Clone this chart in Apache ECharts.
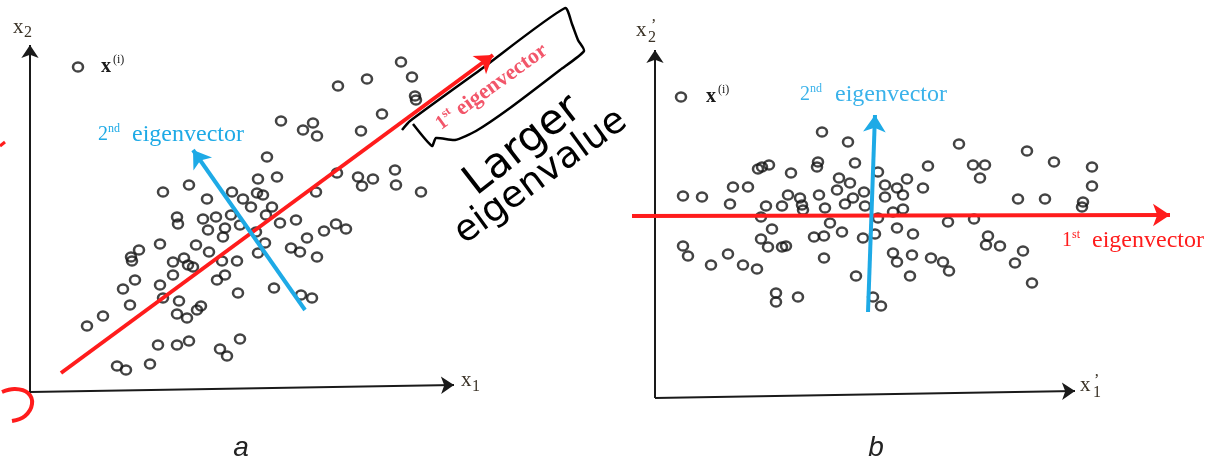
<!DOCTYPE html>
<html>
<head>
<meta charset="utf-8">
<script src="https://cdn.jsdelivr.net/npm/echarts@6/dist/echarts.min.js"></script>
<style>
  html, body { margin: 0; background: #fff; }
  #chart { width: 1220px; height: 464px; }
</style>
</head>
<body>
<div id="chart"></div>
<script>
// panel a: original data (x1, x2)
const pointsA = [
  [228,211],[247,213],[133,198],[159,205],[177,191],[202,198],[213,191],[221,183],[227,197],[233,195],[242,183],[286,198],
  [147,173],[148,166],[173,171],[186,173],[201,175],[210,165],[236,175],[195,162],[193,153],[178,160],[250,167],[266,170],
  [226,158],[277,152],[261,142],[270,138],[287,133],[130,146],[166,145],[179,138],[109,140],[101,133],[102,129],[143,128],
  [154,132],[158,125],[163,123],[143,115],[192,129],[207,129],[228,137],[235,147],[187,110],[195,115],[105,110],[93,101],
  [130,105],[133,92],[149,89],[100,85],[208,97],[244,102],[271,95],[282,92],[73,74],[57,64],[147,76],[157,72],[167,80],
  [171,84],[128,45],[147,45],[159,49],[210,51],[190,41],[197,34],[87,24],[96,20],[120,26],[371,328],[382,313],[337,311],
  [308,304],[385,294],[386,290],[352,276],[251,269],[283,267],[273,260],[287,254],[331,259],[237,233],[307,217],[328,213],
  [332,204],[343,211],[365,220],[366,205],[391,198],[294,159],[306,166],[316,161]
]
const sampleA = [48, 323]
const axisX1 = [[0, -2], [424, 5]]
const axisX2 = [[0, -2], [0, 345]]
const firstEigenA = [[31, 17], [463, 335]]
const secondEigenA = [[275, 80], [163, 240]]

// panel b: projected data (x'1, x'2)
const pointsB = [
  [167,264],[193,254],[103,227],[107,229],[114,231],[136,223],[163,234],[162,229],[200,233],[223,224],[184,218],[78,209],
  [93,209],[195,213],[230,211],[242,208],[28,200],[47,199],[75,192],[133,201],[145,198],[147,191],[148,186],[164,201],
  [182,206],[209,204],[198,198],[190,192],[230,199],[111,190],[127,190],[170,188],[210,190],[238,184],[106,179],[223,178],
  [175,173],[117,167],[187,164],[159,159],[169,160],[208,158],[220,162],[242,168],[106,157],[113,149],[127,149],[131,150],
  [28,150],[33,140],[73,142],[56,131],[88,131],[102,127],[169,138],[238,143],[242,134],[201,120],[121,103],[121,94],
  [143,99],[218,99],[226,90],[304,252],[372,245],[399,234],[437,229],[273,230],[318,231],[330,231],[325,218],[252,217],
  [248,201],[268,208],[437,210],[363,197],[390,197],[428,194],[427,189],[248,187],[293,174],[319,177],[258,162],[333,160],
  [331,151],[345,150],[257,141],[276,138],[288,134],[294,125],[368,145],[360,133],[255,120],[377,113]
]
const sampleB = [26, 299]
const axisX1p = [[0, -2], [420, 5]]
const axisX2p = [[0, -2], [0, 346]]
const firstEigenB = [[-23, 180], [515, 181]]
const secondEigenB = [[213, 84], [220, 281]]

const RED = '#ff1c1c'
const BLUE = '#1eaae6'
const INK = '#1a1a1a'
const SERIF = 'Liberation Serif'

function circles(data, idx) {
  return {
    type: 'scatter',
    xAxisIndex: idx,
    yAxisIndex: idx,
    data,
    symbol: 'circle',
    symbolSize: [10, 9],
    itemStyle: { color: 'rgba(255,255,255,0)', borderColor: '#141414', borderWidth: 2.4 },
    z: 2,
  }
}

function arrow(coords, idx, color, width, size) {
  return {
    type: 'lines',
    coordinateSystem: 'cartesian2d',
    xAxisIndex: idx,
    yAxisIndex: idx,
    symbol: ['none', 'arrow'],
    symbolSize: size,
    lineStyle: { color, width, opacity: 1, curveness: 0 },
    data: [{ coords }],
    z: 3,
  }
}

function txt(x, y, text, size, color, extra) {
  return {
    type: 'text',
    x,
    y,
    silent: true,
    style: Object.assign({
      text,
      fill: color,
      fontSize: size,
      fontFamily: SERIF,
      textAlign: 'left',
      textVerticalAlign: 'middle',
    }, extra || {}),
  }
}

const chart = echarts.init(document.getElementById('chart'))
chart.setOption({
  animation: false,
  grid: [
    { left: 0, top: 0, width: 610, height: 464 },
    { left: 610, top: 0, width: 610, height: 464 },
  ],
  xAxis: [
    { type: 'value', gridIndex: 0, min: -30, max: 580, show: false },
    { type: 'value', gridIndex: 1, min: -45, max: 565, show: false },
  ],
  yAxis: [
    { type: 'value', gridIndex: 0, min: -74, max: 390, show: false },
    { type: 'value', gridIndex: 1, min: -68, max: 396, show: false },
  ],
  series: [
    circles(pointsA.concat([sampleA]), 0),
    circles(pointsB.concat([sampleB]), 1),
    arrow(axisX1, 0, INK, 2, 13),
    arrow(axisX2, 0, INK, 2, 13),
    arrow(axisX1p, 1, INK, 2, 13),
    arrow(axisX2p, 1, INK, 2, 13),
    arrow(firstEigenA, 0, RED, 4, 17),
    arrow(secondEigenA, 0, BLUE, 4, 17),
    arrow(firstEigenB, 1, RED, 4, 17),
    arrow(secondEigenB, 1, BLUE, 4, 17),
  ],
  graphic: [
    // panel a labels
    txt(13, 27, 'x', 21, '#3a3226'),
    txt(24, 33, '2', 16, '#3a3226'),
    txt(461, 380, 'x', 21, '#3a3226'),
    txt(472, 387, '1', 16, '#3a3226'),
    txt(101, 67, 'x', 20, INK, { fontWeight: 'bold' }),
    txt(113, 60, '(i)', 12, INK),
    txt(98, 135, '2', 20, BLUE),
    txt(108, 129, 'nd', 12, BLUE),
    txt(132, 135, 'eigenvector', 24, BLUE),
    {
      type: 'group',
      x: 438,
      y: 126,
      rotation: 0.625,
      children: [
        txt(0, 0, '1', 20, '#f2566a', { fontWeight: 'bold' }),
        txt(10, -6, 'st', 12, '#f2566a', { fontWeight: 'bold' }),
        txt(25, 0, 'eigenvector', 22, '#f2566a', { fontWeight: 'bold' }),
      ],
    },
    // panel b labels
    txt(636, 30, 'x', 21, '#3a3226'),
    txt(651, 26, '\u2019', 16, '#3a3226'),
    txt(648, 38, '2', 16, '#3a3226'),
    txt(1080, 385, 'x', 21, '#3a3226'),
    txt(1094, 381, '\u2019', 16, '#3a3226'),
    txt(1093, 393, '1', 16, '#3a3226'),
    txt(706, 97, 'x', 20, INK, { fontWeight: 'bold' }),
    txt(718, 90, '(i)', 12, INK),
    txt(800, 95, '2', 20, '#3ab2ea'),
    txt(810, 89, 'nd', 12, '#3ab2ea'),
    txt(835, 95, 'eigenvector', 24, '#3ab2ea'),
    txt(1062, 241, '1', 20, RED),
    txt(1072, 235, 'st', 12, RED),
    txt(1092, 241, 'eigenvector', 24, RED),
    // captions
    txt(241, 448, 'a', 28, '#222', { textAlign: 'center', fontStyle: 'italic', fontFamily: 'Liberation Sans' }),
    txt(876, 448, 'b', 28, '#222', { textAlign: 'center', fontStyle: 'italic', fontFamily: 'Liberation Sans' }),
    // handwritten notes
    {
      type: 'polyline',
      silent: true,
      shape: {
        points: [[402,130],[410,121],[480,70],[565,8],[572,24],[578,40],[584,51],[560,70],[510,108],[476,131],[455,140],[436,138],[432,146],[413,124]],
        smooth: 0.2,
      },
      style: { stroke: '#000', lineWidth: 2.5, fill: null },
    },
    {
      type: 'text', x: 523, y: 146, rotation: 0.66, silent: true,
      style: { text: 'Larger', fill: '#000', fontSize: 42, fontFamily: 'DejaVu Sans', textAlign: 'center', textVerticalAlign: 'middle' },
    },
    {
      type: 'text', x: 541, y: 177, rotation: 0.63, silent: true,
      style: { text: 'eigenvalue', fill: '#000', fontSize: 37, fontFamily: 'DejaVu Sans', textAlign: 'center', textVerticalAlign: 'middle' },
    },
    {
      type: 'polyline', silent: true,
      shape: { points: [[0,146],[5,142]] },
      style: { stroke: RED, lineWidth: 3, fill: null },
    },
    {
      type: 'polyline', silent: true,
      shape: { points: [[2,392],[15,389],[28,393],[32,404],[25,416],[12,421]], smooth: 0.4 },
      style: { stroke: RED, lineWidth: 4, fill: null },
    },
  ],
})
</script>
</body>
</html>
